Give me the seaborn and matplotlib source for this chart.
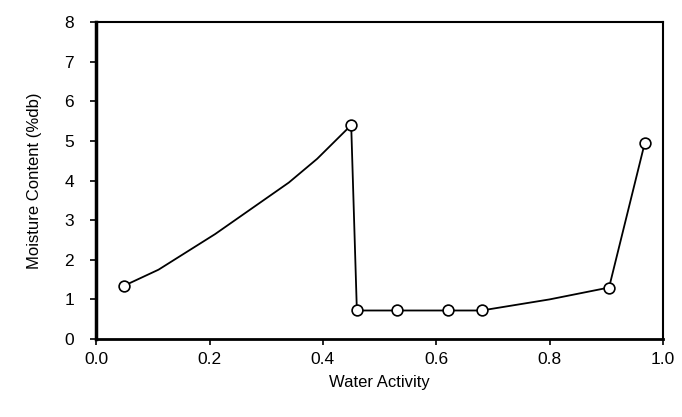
import matplotlib
matplotlib.use("Agg")
import matplotlib.pyplot as plt
import seaborn as sns
import pandas as pd

# Data
water_activity = [0.05, 0.11, 0.21, 0.27, 0.34, 0.39, 0.45, 0.46, 0.53, 0.62, 0.68, 0.80, 0.905, 0.968]
moisture = [1.35, 1.75, 2.65, 3.25, 3.95, 4.55, 5.4, 0.72, 0.72, 0.72, 0.72, 1.0, 1.3, 4.95]
marked = [True, False, False, False, False, False, True, True, True, True, True, False, True, True]
x_ticks = [0.0, 0.2, 0.4, 0.6, 0.8, 1.0]
x_tick_labels = ["0.0", "0.2", "0.4", "0.6", "0.8", "1.0"]
y_ticks = [0, 1, 2, 3, 4, 5, 6, 7, 8]

df = pd.DataFrame({"aw": water_activity, "mc": moisture, "marked": marked})

sns.set_style("ticks")
plt.rcParams["font.family"] = ["Liberation Sans", "DejaVu Sans"]

fig = plt.figure(figsize=(6.82, 4.17), dpi=100)
ax = fig.add_axes([0.141, 0.187, 0.831, 0.76])

sns.lineplot(data=df, x="aw", y="mc", color="black", linewidth=1.3, sort=False,
             estimator=None, ax=ax)
sns.scatterplot(data=df[df["marked"]], x="aw", y="mc", s=60, facecolor="white",
                edgecolor="black", linewidth=1.2, zorder=3, ax=ax)

ax.set_xlim(0, 1.0)
ax.set_ylim(0, 8)
ax.set_xticks(x_ticks)
ax.set_xticklabels(x_tick_labels)
ax.set_yticks(y_ticks)
ax.tick_params(axis="both", labelsize=12.5, length=4, width=1.2, color="black",
               labelcolor="black")
ax.tick_params(axis="y", pad=12)
ax.tick_params(axis="x", pad=5)
for side in ["left", "bottom", "top", "right"]:
    ax.spines[side].set_visible(True)
    ax.spines[side].set_color("black")
    ax.spines[side].set_linewidth(1.5)
ax.spines["left"].set_linewidth(2.5)
ax.spines["bottom"].set_linewidth(2.0)

ax.set_xlabel("Water Activity", fontsize=12, labelpad=6, color="black")
ax.set_ylabel("Moisture Content (%db)", fontsize=12, labelpad=16, color="black")

fig.savefig("out.png", dpi=100, facecolor="white")
